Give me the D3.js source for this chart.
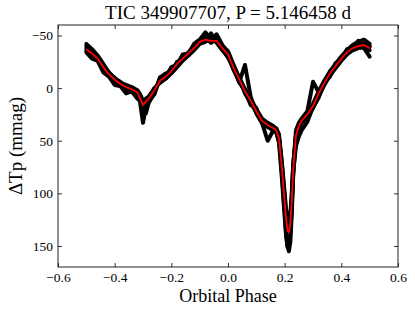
<!DOCTYPE html>
<html><head><meta charset="utf-8">
<script src="https://cdn.jsdelivr.net/npm/d3@7"></script>
<style>body{margin:0;background:#fff}svg{display:block}text{font-family:"Liberation Serif","DejaVu Serif",serif;fill:#000}</style>
</head><body><svg id="c" width="415" height="312"></svg>
<script>
const titleText = "TIC 349907707, P = 5.146458 d";
const xLabel = "Orbital Phase";
const yLabel = "ΔTp (mmag)";
const xTicks = [-0.6,-0.4,-0.2,0.0,0.2,0.4,0.6];
const yTicks = [-50,0,50,100,150];

const phase = [-0.50,-0.48,-0.46,-0.44,-0.42,-0.40,-0.38,-0.36,-0.34,-0.32,-0.31,-0.30,-0.29,-0.28,-0.26,-0.24,-0.22,-0.20,-0.18,-0.16,-0.14,-0.12,-0.10,-0.08,-0.06,-0.04,-0.02,0.00,0.02,0.04,0.06,0.08,0.10,0.12,0.14,0.16,0.17,0.18,0.19,0.20,0.205,0.21,0.215,0.22,0.225,0.23,0.24,0.25,0.26,0.28,0.30,0.32,0.34,0.36,0.38,0.40,0.42,0.44,0.46,0.48,0.50];

const meanCurve = [-37,-33,-28,-20,-13,-8,-4,-1,1,4,10,16,13,10,2,-7,-11,-16,-23,-28,-33,-38,-44,-46,-45,-45,-38,-32,-19,-8,3,12,22,31,35,38,40,48,75,108,124,135,137,128,108,78,45,36,31,25,17,5,-5,-14,-21,-28,-34,-38,-40,-41,-38];

const cycleA = [-40,-35,-30,-22,-15,-9,-6,-2,0,3,14,33,18,12,6,-10,-9,-20,-22,-32,-33,-42,-46,-53,-47,-51,-41,-34,-21,-10,1,10,20,29,33,36,39,47,80,118,138,150,155,146,120,84,44,35,30,24,15,3,-7,-16,-23,-30,-36,-41,-44,-46,-42];
const cycleB = [-34,-28,-26,-15,-11,-3,-2,5,3,10,12,14,11,9,0,-5,-9,-14,-20,-26,-31,-36,-42,-44,-52,-43,-36,-30,-17,-6,-22,8,24,33,37,40,42,50,72,104,120,132,133,124,104,72,47,38,33,27,19,8,-3,-12,-19,-26,-32,-36,-38,-39,-36];
const cycleC = [-42,-37,-31,-23,-14,-10,-5,-3,-1,2,6,12,24,14,5,-10,-14,-15,-25,-27,-34,-39,-45,-48,-43,-47,-40,-35,-22,-9,5,14,23,32,36,39,41,52,85,122,140,151,150,138,112,80,55,46,40,32,18,9,-6,-11,-24,-27,-37,-38,-45,-42,-40];
const cycleD = [-38,-32,-27,-19,-12,-6,-2,1,3,6,9,15,10,8,1,-6,-10,-17,-22,-29,-32,-37,-43,-47,-46,-44,-37,-29,-20,-5,2,16,19,33,34,37,38,44,70,100,115,125,128,120,100,75,40,33,29,22,-6,4,-6,-15,-20,-27,-33,-39,-41,-42,-39];
const cycleE = [-36,-34,-29,-21,-14,-7,-3,0,2,5,8,13,12,11,3,-8,-12,-19,-21,-30,-31,-40,-43,-45,-45,-46,-38,-32,-20,-7,3,12,22,33,50,40,41,47,73,110,125,132,135,130,110,80,45,37,32,26,18,6,-5,-14,-21,-28,-34,-37,-39,-38,-30];
const cycles = [cycleA, cycleB, cycleC, cycleD, cycleE];

const W = 415, H = 312;
const m = {l:58, r:17, t:25, b:45};
const svg = d3.select("#c");
const x = d3.scaleLinear().domain([-0.6,0.6]).range([m.l, W-m.r]);
const y = d3.scaleLinear().domain([-60,170]).range([m.t, H-m.b]);

const line = d3.line().x((d,i)=>x(phase[i])).y(d=>y(d));
const g = svg.append("g");
cycles.forEach(c=>{
  g.append("path").datum(c).attr("d", line).attr("fill","none")
   .attr("stroke","#000").attr("stroke-width",4).attr("stroke-linejoin","round").attr("stroke-linecap","round");
});
g.append("path").datum(meanCurve).attr("d", line).attr("fill","none")
  .attr("stroke","#ff0000").attr("stroke-width",1.8).attr("stroke-linejoin","round");

const tl = 4;
const fmtX = d3.format(".1f"), fmtY = d3.format("d");
const ax = svg.append("g");
ax.append("g").attr("transform",`translate(0,${H-m.b})`)
  .call(d3.axisBottom(x).tickValues(xTicks).tickFormat(fmtX).tickSize(-tl).tickPadding(5))
  .call(s=>{s.select(".domain").remove();s.selectAll("text").attr("font-size",13.5);});
ax.append("g").attr("transform",`translate(0,${m.t})`)
  .call(d3.axisTop(x).tickValues(xTicks).tickFormat("").tickSize(-tl))
  .call(s=>s.select(".domain").remove());
ax.append("g").attr("transform",`translate(${m.l},0)`)
  .call(d3.axisLeft(y).tickValues(yTicks).tickFormat(fmtY).tickSize(-tl).tickPadding(5))
  .call(s=>{s.select(".domain").remove();s.selectAll("text").attr("font-size",13.5);});
ax.append("g").attr("transform",`translate(${W-m.r},0)`)
  .call(d3.axisRight(y).tickValues(yTicks).tickFormat("").tickSize(-tl))
  .call(s=>s.select(".domain").remove());
ax.selectAll(".tick line").attr("stroke","#333");
ax.selectAll("text").attr("font-family","Liberation Serif, serif").attr("fill","#333");

svg.append("rect").attr("x",m.l).attr("y",m.t).attr("width",W-m.l-m.r).attr("height",H-m.t-m.b)
  .attr("fill","none").attr("stroke","#222").attr("stroke-width",1);

svg.append("text").attr("x",(m.l+W-m.r)/2).attr("y",19).attr("text-anchor","middle")
  .attr("font-size",19).text(titleText);
svg.append("text").attr("x",(m.l+W-m.r)/2).attr("y",302).attr("text-anchor","middle")
  .attr("font-size",18).text(xLabel);
svg.append("text").attr("transform",`translate(22,${(m.t+H-m.b)/2}) rotate(-90)`).attr("text-anchor","middle")
  .attr("font-size",19).text(yLabel);
</script></body></html>
